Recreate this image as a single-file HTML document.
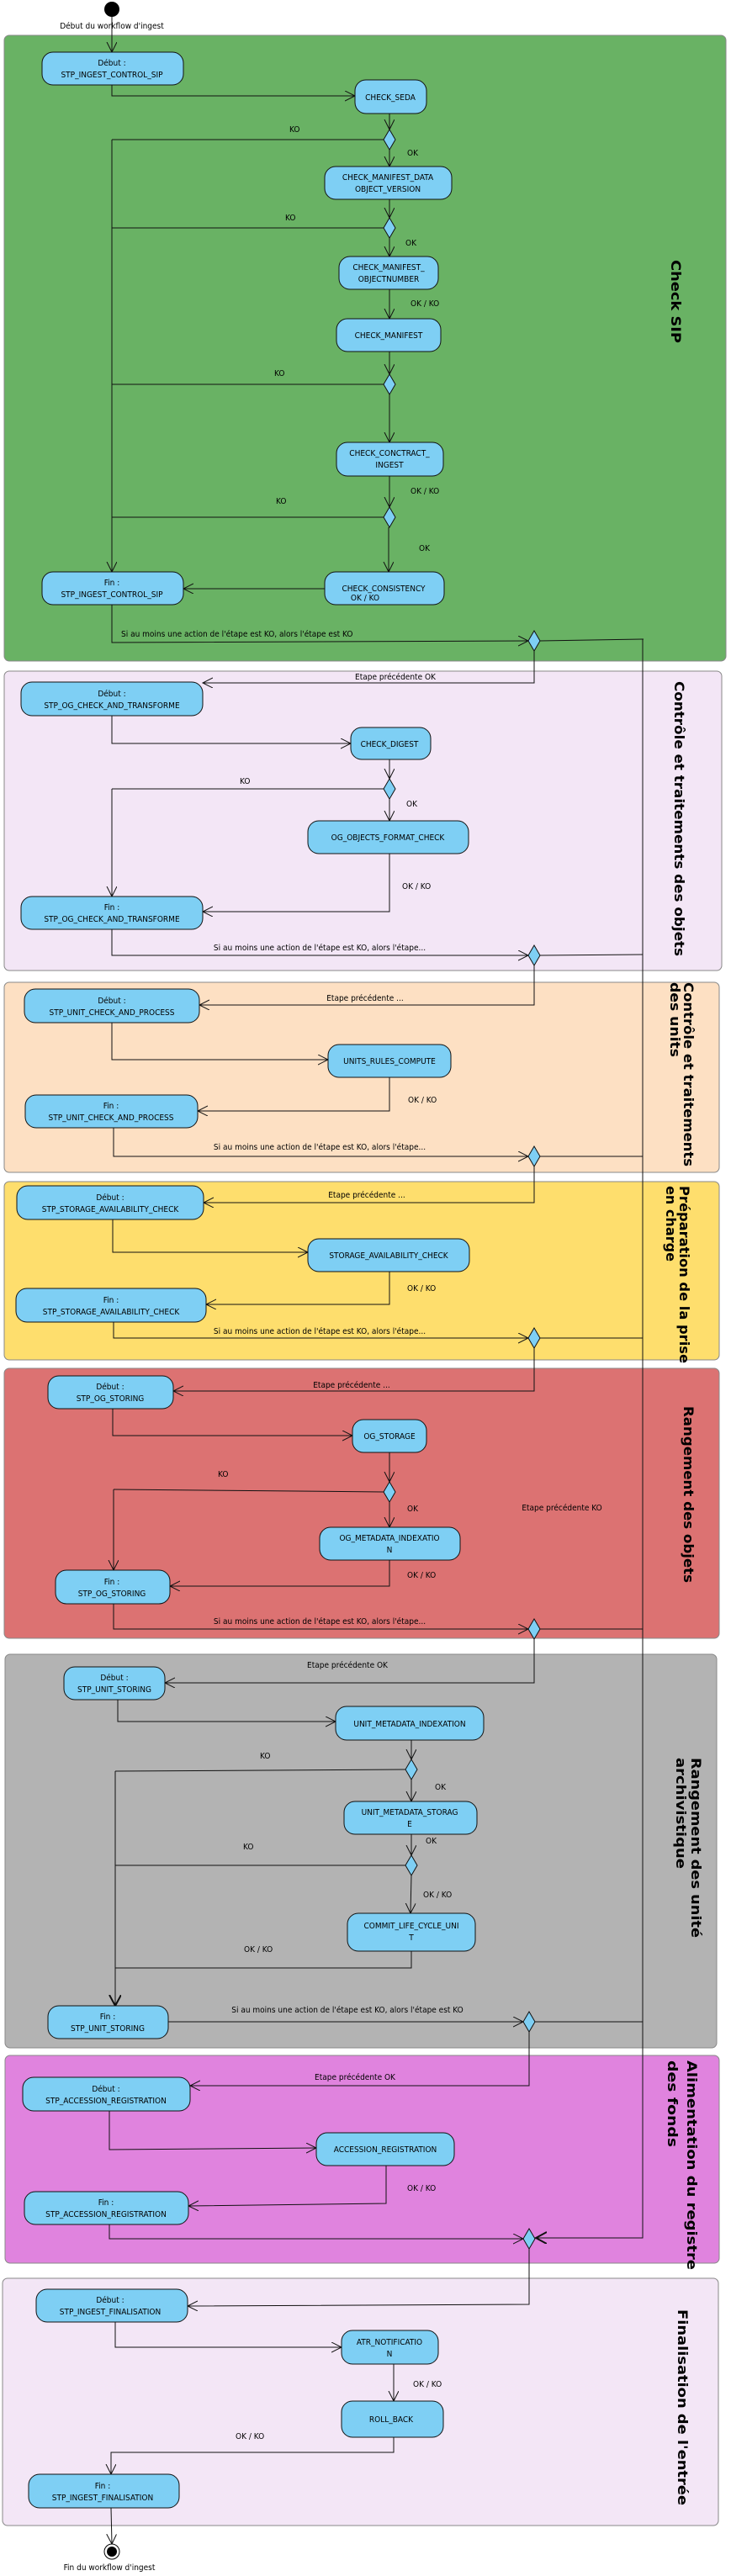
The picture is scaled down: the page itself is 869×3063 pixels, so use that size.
<!DOCTYPE html>
<html><head><meta charset="utf-8"><style>
html,body{margin:0;padding:0;background:#fff}
svg{display:block}
text{font-family:"DejaVu Sans Condensed","DejaVu Sans","Liberation Sans",sans-serif;font-size:10px;fill:#000}
.c{text-anchor:middle}
.t{font-family:"DejaVu Sans","Liberation Sans",sans-serif;font-weight:bold;font-size:16px}
.b{fill:#7ecff4;stroke:#111;stroke-width:1}
.d{fill:#7ecff4;stroke:#111;stroke-width:1}
.l{fill:none;stroke:#111;stroke-width:1}
.p{stroke:#888;stroke-width:1}
</style></head><body>
<svg width="869" height="3063" viewBox="0 0 869 3063" xmlns="http://www.w3.org/2000/svg">
<defs>
<marker id="a" markerUnits="userSpaceOnUse" markerWidth="14" markerHeight="14" refX="12" refY="6" orient="auto"><path d="M0,0 L12,6 L0,12" fill="none" stroke="#111" stroke-width="1"/></marker>
<marker id="ak" markerUnits="userSpaceOnUse" markerWidth="16" markerHeight="16" refX="13" refY="7" orient="auto"><path d="M0,0 L13,7 L0,14" fill="none" stroke="#111" stroke-width="2"/></marker>
</defs>

<!-- panels -->
<rect class="p" x="5" y="42" width="858" height="744" rx="6" fill="#69b264"/>
<rect class="p" x="5" y="798" width="853" height="356" rx="6" fill="#f3e6f6"/>
<rect class="p" x="5" y="1168" width="850" height="226" rx="6" fill="#fde0c3"/>
<rect class="p" x="5" y="1405" width="850" height="212" rx="6" fill="#fede6d"/>
<rect class="p" x="5" y="1627" width="850" height="321" rx="6" fill="#dc7272"/>
<rect class="p" x="6" y="1967" width="846" height="468" rx="6" fill="#b3b3b3"/>
<rect class="p" x="6" y="2444" width="849" height="247" rx="6" fill="#e083de"/>
<rect class="p" x="3" y="2709" width="851" height="294" rx="6" fill="#f3e6f6"/>

<!-- panel titles -->
<text class="t" transform="translate(798,309) rotate(90)" textLength="99" lengthAdjust="spacingAndGlyphs">Check SIP</text>
<text class="t" transform="translate(802,810) rotate(90)" textLength="327" lengthAdjust="spacingAndGlyphs">Contrôle et traitements des objets</text>
<text class="t" transform="translate(813,1168) rotate(90)" textLength="219" lengthAdjust="spacingAndGlyphs">Contrôle et traitements</text>
<text class="t" transform="translate(797,1168) rotate(90)" textLength="89" lengthAdjust="spacingAndGlyphs">des units</text>
<text class="t" transform="translate(808,1410) rotate(90)" textLength="211" lengthAdjust="spacingAndGlyphs">Préparation de la prise</text>
<text class="t" transform="translate(792,1410) rotate(90)" textLength="90" lengthAdjust="spacingAndGlyphs">en charge</text>
<text class="t" transform="translate(813,1672) rotate(90)" textLength="210" lengthAdjust="spacingAndGlyphs">Rangement des objets</text>
<text class="t" transform="translate(822,2090) rotate(90)" textLength="214" lengthAdjust="spacingAndGlyphs">Rangement des unité</text>
<text class="t" transform="translate(804,2090) rotate(90)" textLength="132" lengthAdjust="spacingAndGlyphs">archivistique</text>
<text class="t" transform="translate(817,2450) rotate(90)" textLength="249" lengthAdjust="spacingAndGlyphs">Alimentation du registre</text>
<text class="t" transform="translate(794,2450) rotate(90)" textLength="103" lengthAdjust="spacingAndGlyphs">des fonds</text>
<text class="t" transform="translate(806,2746) rotate(90)" textLength="233" lengthAdjust="spacingAndGlyphs">Finalisation de l'entrée</text>

<!-- start -->
<circle cx="133" cy="11" r="9" fill="#000"/>
<text class="c" x="133" y="34">Début du workflow d'ingest</text>
<path class="l" d="M133,20 V62" marker-end="url(#a)"/>

<!-- ===== Check SIP ===== -->
<rect class="b" x="50" y="62" width="168" height="39" rx="13"/>
<text class="c" x="133" y="78">Début :</text><text class="c" x="133" y="92">STP_INGEST_CONTROL_SIP</text>
<path class="l" d="M133,101 V114 H422" marker-end="url(#a)"/>
<rect class="b" x="422" y="95" width="85" height="40" rx="13"/>
<text class="c" x="464" y="119">CHECK_SEDA</text>
<path class="l" d="M463,135 V154" marker-end="url(#a)"/>
<polygon class="d" points="463,154 470,166 463,178 456,166"/>
<path class="l" d="M456,166 H133"/><text x="344" y="157">KO</text>
<path class="l" d="M133,166 V680" marker-end="url(#a)"/>
<text x="484" y="185">OK</text>
<path class="l" d="M463,178 V198" marker-end="url(#a)"/>
<rect class="b" x="386" y="198" width="151" height="39" rx="13"/>
<text class="c" x="461" y="214">CHECK_MANIFEST_DATA</text><text class="c" x="461" y="228">OBJECT_VERSION</text>
<path class="l" d="M463,237 V259" marker-end="url(#a)"/>
<polygon class="d" points="463,259 470,271 463,283 456,271"/>
<path class="l" d="M456,271 H133"/><text x="339" y="262">KO</text>
<text x="482" y="292">OK</text>
<path class="l" d="M463,283 V305" marker-end="url(#a)"/>
<rect class="b" x="403" y="305" width="118" height="39" rx="13"/>
<text class="c" x="462" y="321">CHECK_MANIFEST_</text><text class="c" x="462" y="335">OBJECTNUMBER</text>
<path class="l" d="M463,344 V379" marker-end="url(#a)"/>
<text x="488" y="364">OK / KO</text>
<rect class="b" x="400" y="379" width="124" height="39" rx="13"/>
<text class="c" x="462" y="402">CHECK_MANIFEST</text>
<path class="l" d="M463,418 V445" marker-end="url(#a)"/>
<polygon class="d" points="463,445 470,457 463,469 456,457"/>
<path class="l" d="M456,457 H133"/><text x="326" y="447">KO</text>
<path class="l" d="M463,469 V526" marker-end="url(#a)"/>
<rect class="b" x="400" y="526" width="127" height="40" rx="13"/>
<text class="c" x="463" y="542">CHECK_CONCTRACT_</text><text class="c" x="463" y="556">INGEST</text>
<path class="l" d="M463,566 V603" marker-end="url(#a)"/>
<text x="488" y="587">OK / KO</text>
<polygon class="d" points="463,603 470,615 463,627 456,615"/>
<path class="l" d="M456,615 H133"/><text x="328" y="599">KO</text>
<path class="l" d="M462,627 V680" marker-end="url(#a)"/>
<text x="498" y="655">OK</text>
<rect class="b" x="386" y="680" width="142" height="39" rx="13"/>
<text class="c" x="456" y="703">CHECK_CONSISTENCY</text><text class="c" x="434" y="714">OK / KO</text>
<path class="l" d="M386,700 H218" marker-end="url(#a)"/>
<rect class="b" x="50" y="680" width="168" height="39" rx="13"/>
<text class="c" x="133" y="696">Fin :</text><text class="c" x="133" y="710">STP_INGEST_CONTROL_SIP</text>
<path class="l" d="M133,719 V764 L628,762" marker-end="url(#a)"/>
<text x="144" y="757">Si au moins une action de l'étape est KO, alors l'étape est KO</text>
<polygon class="d" points="635,750 642,762 635,774 628,762"/>
<path class="l" d="M642,762 L765,760"/>
<path class="l" d="M635,774 V812 H241" marker-end="url(#a)"/>

<!-- ===== Contrôle objets ===== -->
<text class="c" x="470" y="808">Etape précédente OK</text>
<rect class="b" x="25" y="811" width="216" height="40" rx="13"/>
<text class="c" x="133" y="828">Début :</text><text class="c" x="133" y="842">STP_OG_CHECK_AND_TRANSFORME</text>
<path class="l" d="M133,851 V884 H417" marker-end="url(#a)"/>
<rect class="b" x="417" y="865" width="95" height="38" rx="13"/>
<text class="c" x="463" y="888">CHECK_DIGEST</text>
<path class="l" d="M463,903 V926" marker-end="url(#a)"/>
<polygon class="d" points="463,926 470,938 463,950 456,938"/>
<path class="l" d="M456,938 H133"/><text x="285" y="932">KO</text>
<path class="l" d="M133,938 V1066" marker-end="url(#a)"/>
<text x="483" y="959">OK</text>
<path class="l" d="M463,950 V976" marker-end="url(#a)"/>
<rect class="b" x="366" y="976" width="191" height="39" rx="13"/>
<text class="c" x="461" y="999">OG_OBJECTS_FORMAT_CHECK</text>
<path class="l" d="M463,1015 V1084 H241" marker-end="url(#a)"/>
<text x="478" y="1057">OK / KO</text>
<rect class="b" x="25" y="1066" width="216" height="39" rx="13"/>
<text class="c" x="133" y="1082">Fin :</text><text class="c" x="133" y="1096">STP_OG_CHECK_AND_TRANSFORME</text>
<path class="l" d="M133,1105 V1136 H628" marker-end="url(#a)"/>
<text class="c" x="380" y="1130">Si au moins une action de l'étape est KO, alors l'étape...</text>
<polygon class="d" points="635,1124 642,1136 635,1148 628,1136"/>
<path class="l" d="M642,1136 L764,1135"/>
<path class="l" d="M635,1148 V1195 H237" marker-end="url(#a)"/>

<!-- ===== Contrôle units ===== -->
<text class="c" x="434" y="1190">Etape précédente ...</text>
<rect class="b" x="29" y="1176" width="208" height="40" rx="13"/>
<text class="c" x="133" y="1193">Début :</text><text class="c" x="133" y="1207">STP_UNIT_CHECK_AND_PROCESS</text>
<path class="l" d="M133,1216 V1260 H390" marker-end="url(#a)"/>
<rect class="b" x="390" y="1242" width="146" height="39" rx="13"/>
<text class="c" x="463" y="1265">UNITS_RULES_COMPUTE</text>
<path class="l" d="M463,1281 V1321 H235" marker-end="url(#a)"/>
<text x="485" y="1311">OK / KO</text>
<rect class="b" x="30" y="1302" width="205" height="39" rx="13"/>
<text class="c" x="132" y="1318">Fin :</text><text class="c" x="132" y="1332">STP_UNIT_CHECK_AND_PROCESS</text>
<path class="l" d="M135,1341 V1375 H628" marker-end="url(#a)"/>
<text class="c" x="380" y="1367">Si au moins une action de l'étape est KO, alors l'étape...</text>
<polygon class="d" points="635,1363 642,1375 635,1387 628,1375"/>
<path class="l" d="M642,1375 H764"/>
<path class="l" d="M635,1387 V1430 H242" marker-end="url(#a)"/>

<!-- ===== Préparation ===== -->
<text class="c" x="436" y="1424">Etape précédente ...</text>
<rect class="b" x="20" y="1410" width="222" height="40" rx="13"/>
<text class="c" x="131" y="1427">Début :</text><text class="c" x="131" y="1441">STP_STORAGE_AVAILABILITY_CHECK</text>
<path class="l" d="M134,1450 V1489 H366" marker-end="url(#a)"/>
<rect class="b" x="366" y="1473" width="192" height="39" rx="13"/>
<text class="c" x="462" y="1496">STORAGE_AVAILABILITY_CHECK</text>
<path class="l" d="M463,1512 V1551 H245" marker-end="url(#a)"/>
<text x="484" y="1535">OK / KO</text>
<rect class="b" x="19" y="1532" width="226" height="40" rx="13"/>
<text class="c" x="132" y="1549">Fin :</text><text class="c" x="132" y="1563">STP_STORAGE_AVAILABILITY_CHECK</text>
<path class="l" d="M135,1572 V1591 H628" marker-end="url(#a)"/>
<text class="c" x="380" y="1586">Si au moins une action de l'étape est KO, alors l'étape...</text>
<polygon class="d" points="635,1579 642,1591 635,1603 628,1591"/>
<path class="l" d="M642,1591 H764"/>
<path class="l" d="M635,1603 V1654 H206" marker-end="url(#a)"/>

<!-- ===== Rangement objets ===== -->
<text class="c" x="418" y="1650">Etape précédente ...</text>
<rect class="b" x="57" y="1636" width="149" height="39" rx="13"/>
<text class="c" x="131" y="1652">Début :</text><text class="c" x="131" y="1666">STP_OG_STORING</text>
<path class="l" d="M134,1675 V1707 H419" marker-end="url(#a)"/>
<rect class="b" x="419" y="1688" width="88" height="39" rx="13"/>
<text class="c" x="463" y="1711">OG_STORAGE</text>
<path class="l" d="M463,1727 V1762" marker-end="url(#a)"/>
<polygon class="d" points="463,1762 470,1774 463,1786 456,1774"/>
<path class="l" d="M456,1774 L135,1771"/><text x="259" y="1756">KO</text>
<path class="l" d="M135,1771 V1867" marker-end="url(#a)"/>
<text x="484" y="1797">OK</text>
<text class="c" x="668" y="1796">Etape précédente KO</text>
<path class="l" d="M463,1786 V1816" marker-end="url(#a)"/>
<rect class="b" x="380" y="1816" width="167" height="39" rx="13"/>
<text class="c" x="463" y="1832">OG_METADATA_INDEXATIO</text><text class="c" x="463" y="1846">N</text>
<path class="l" d="M463,1855 V1886 H202" marker-end="url(#a)"/>
<text x="484" y="1876">OK / KO</text>
<rect class="b" x="66" y="1867" width="136" height="40" rx="13"/>
<text class="c" x="133" y="1884">Fin :</text><text class="c" x="133" y="1898">STP_OG_STORING</text>
<path class="l" d="M135,1907 V1937 H628" marker-end="url(#a)"/>
<text class="c" x="380" y="1931">Si au moins une action de l'étape est KO, alors l'étape...</text>
<polygon class="d" points="635,1925 642,1937 635,1949 628,1937"/>
<path class="l" d="M642,1937 H764"/>
<path class="l" d="M635,1949 V2001 H196" marker-end="url(#a)"/>

<!-- ===== Rangement unités ===== -->
<text class="c" x="413" y="1983">Etape précédente OK</text>
<rect class="b" x="76" y="1982" width="120" height="39" rx="13"/>
<text class="c" x="136" y="1998">Début :</text><text class="c" x="136" y="2012">STP_UNIT_STORING</text>
<path class="l" d="M140,2021 V2047 H399" marker-end="url(#a)"/>
<rect class="b" x="399" y="2029" width="176" height="40" rx="13"/>
<text class="c" x="487" y="2053">UNIT_METADATA_INDEXATION</text>
<path class="l" d="M489,2069 V2092" marker-end="url(#a)"/>
<polygon class="d" points="489,2092 496,2104 489,2116 482,2104"/>
<path class="l" d="M482,2104 L137,2106"/><text x="309" y="2091">KO</text>
<path class="l" d="M137,2106 V2385" stroke-width="1.6" marker-end="url(#ak)"/>
<text x="517" y="2128">OK</text>
<path class="l" d="M489,2116 V2142" marker-end="url(#a)"/>
<rect class="b" x="409" y="2142" width="158" height="39" rx="13"/>
<text class="c" x="487" y="2158">UNIT_METADATA_STORAG</text><text class="c" x="487" y="2172">E</text>
<path class="l" d="M489,2181 V2206" marker-end="url(#a)"/>
<text x="506" y="2192">OK</text>
<polygon class="d" points="489,2206 496,2218 489,2230 482,2218"/>
<path class="l" d="M482,2218 H137"/><text x="289" y="2199">KO</text>
<path class="l" d="M489,2230 L488,2275" marker-end="url(#a)"/>
<text x="503" y="2256">OK / KO</text>
<rect class="b" x="413" y="2275" width="152" height="45" rx="13"/>
<text class="c" x="489" y="2293">COMMIT_LIFE_CYCLE_UNI</text><text class="c" x="489" y="2307">T</text>
<path class="l" d="M489,2320 V2340 H137"/>
<text x="290" y="2321">OK / KO</text>
<rect class="b" x="57" y="2385" width="143" height="39" rx="13"/>
<text class="c" x="128" y="2401">Fin :</text><text class="c" x="128" y="2415">STP_UNIT_STORING</text>
<path class="l" d="M200,2404 H622" marker-end="url(#a)"/>
<text class="c" x="413" y="2393">Si au moins une action de l'étape est KO, alors l'étape est KO</text>
<polygon class="d" points="629,2392 636,2404 629,2416 622,2404"/>
<path class="l" d="M636,2404 H764"/>
<path class="l" d="M629,2416 V2480 H226" marker-end="url(#a)"/>

<!-- ===== Alimentation ===== -->
<text class="c" x="422" y="2473">Etape précédente OK</text>
<rect class="b" x="27" y="2470" width="199" height="40" rx="13"/>
<text class="c" x="126" y="2487">Début :</text><text class="c" x="126" y="2501">STP_ACCESSION_REGISTRATION</text>
<path class="l" d="M130,2510 V2556 L376,2554" marker-end="url(#a)"/>
<rect class="b" x="376" y="2536" width="164" height="39" rx="13"/>
<text class="c" x="458" y="2559">ACCESSION_REGISTRATION</text>
<path class="l" d="M459,2575 V2620 L224,2623" marker-end="url(#a)"/>
<text x="484" y="2605">OK / KO</text>
<rect class="b" x="29" y="2606" width="195" height="39" rx="13"/>
<text class="c" x="126" y="2622">Fin :</text><text class="c" x="126" y="2636">STP_ACCESSION_REGISTRATION</text>
<path class="l" d="M130,2645 V2662 H622" marker-end="url(#a)"/>
<polygon class="d" points="629,2650 636,2662 629,2674 622,2662"/>
<path class="l" d="M764,760 V1135" stroke-width="1"/>
<path class="l" d="M764,1135 V2661 H637" stroke-width="2.2" marker-end="url(#ak)"/>
<path class="l" d="M629,2674 V2740 L223,2742" marker-end="url(#a)"/>

<!-- ===== Finalisation ===== -->
<rect class="b" x="43" y="2722" width="180" height="39" rx="13"/>
<text class="c" x="131" y="2738">Début :</text><text class="c" x="131" y="2752">STP_INGEST_FINALISATION</text>
<path class="l" d="M137,2761 V2791 H406" marker-end="url(#a)"/>
<rect class="b" x="406" y="2771" width="115" height="40" rx="13"/>
<text class="c" x="463" y="2788">ATR_NOTIFICATIO</text><text class="c" x="463" y="2802">N</text>
<path class="l" d="M468,2811 V2855" marker-end="url(#a)"/>
<text x="491" y="2838">OK / KO</text>
<rect class="b" x="406" y="2855" width="121" height="43" rx="13"/>
<text class="c" x="465" y="2880">ROLL_BACK</text>
<path class="l" d="M468,2898 V2916 H132 V2942" marker-end="url(#a)"/>
<text x="280" y="2900">OK / KO</text>
<rect class="b" x="34" y="2942" width="179" height="40" rx="13"/>
<text class="c" x="122" y="2959">Fin :</text><text class="c" x="122" y="2973">STP_INGEST_FINALISATION</text>
<path class="l" d="M132,2982 L133,3025" marker-end="url(#a)"/>
<circle cx="133" cy="3034" r="9" fill="#fff" stroke="#000" stroke-width="1"/>
<circle cx="133" cy="3034" r="6" fill="#000"/>
<text class="c" x="130" y="3056">Fin du workflow d'ingest</text>
</svg>
</body></html>
